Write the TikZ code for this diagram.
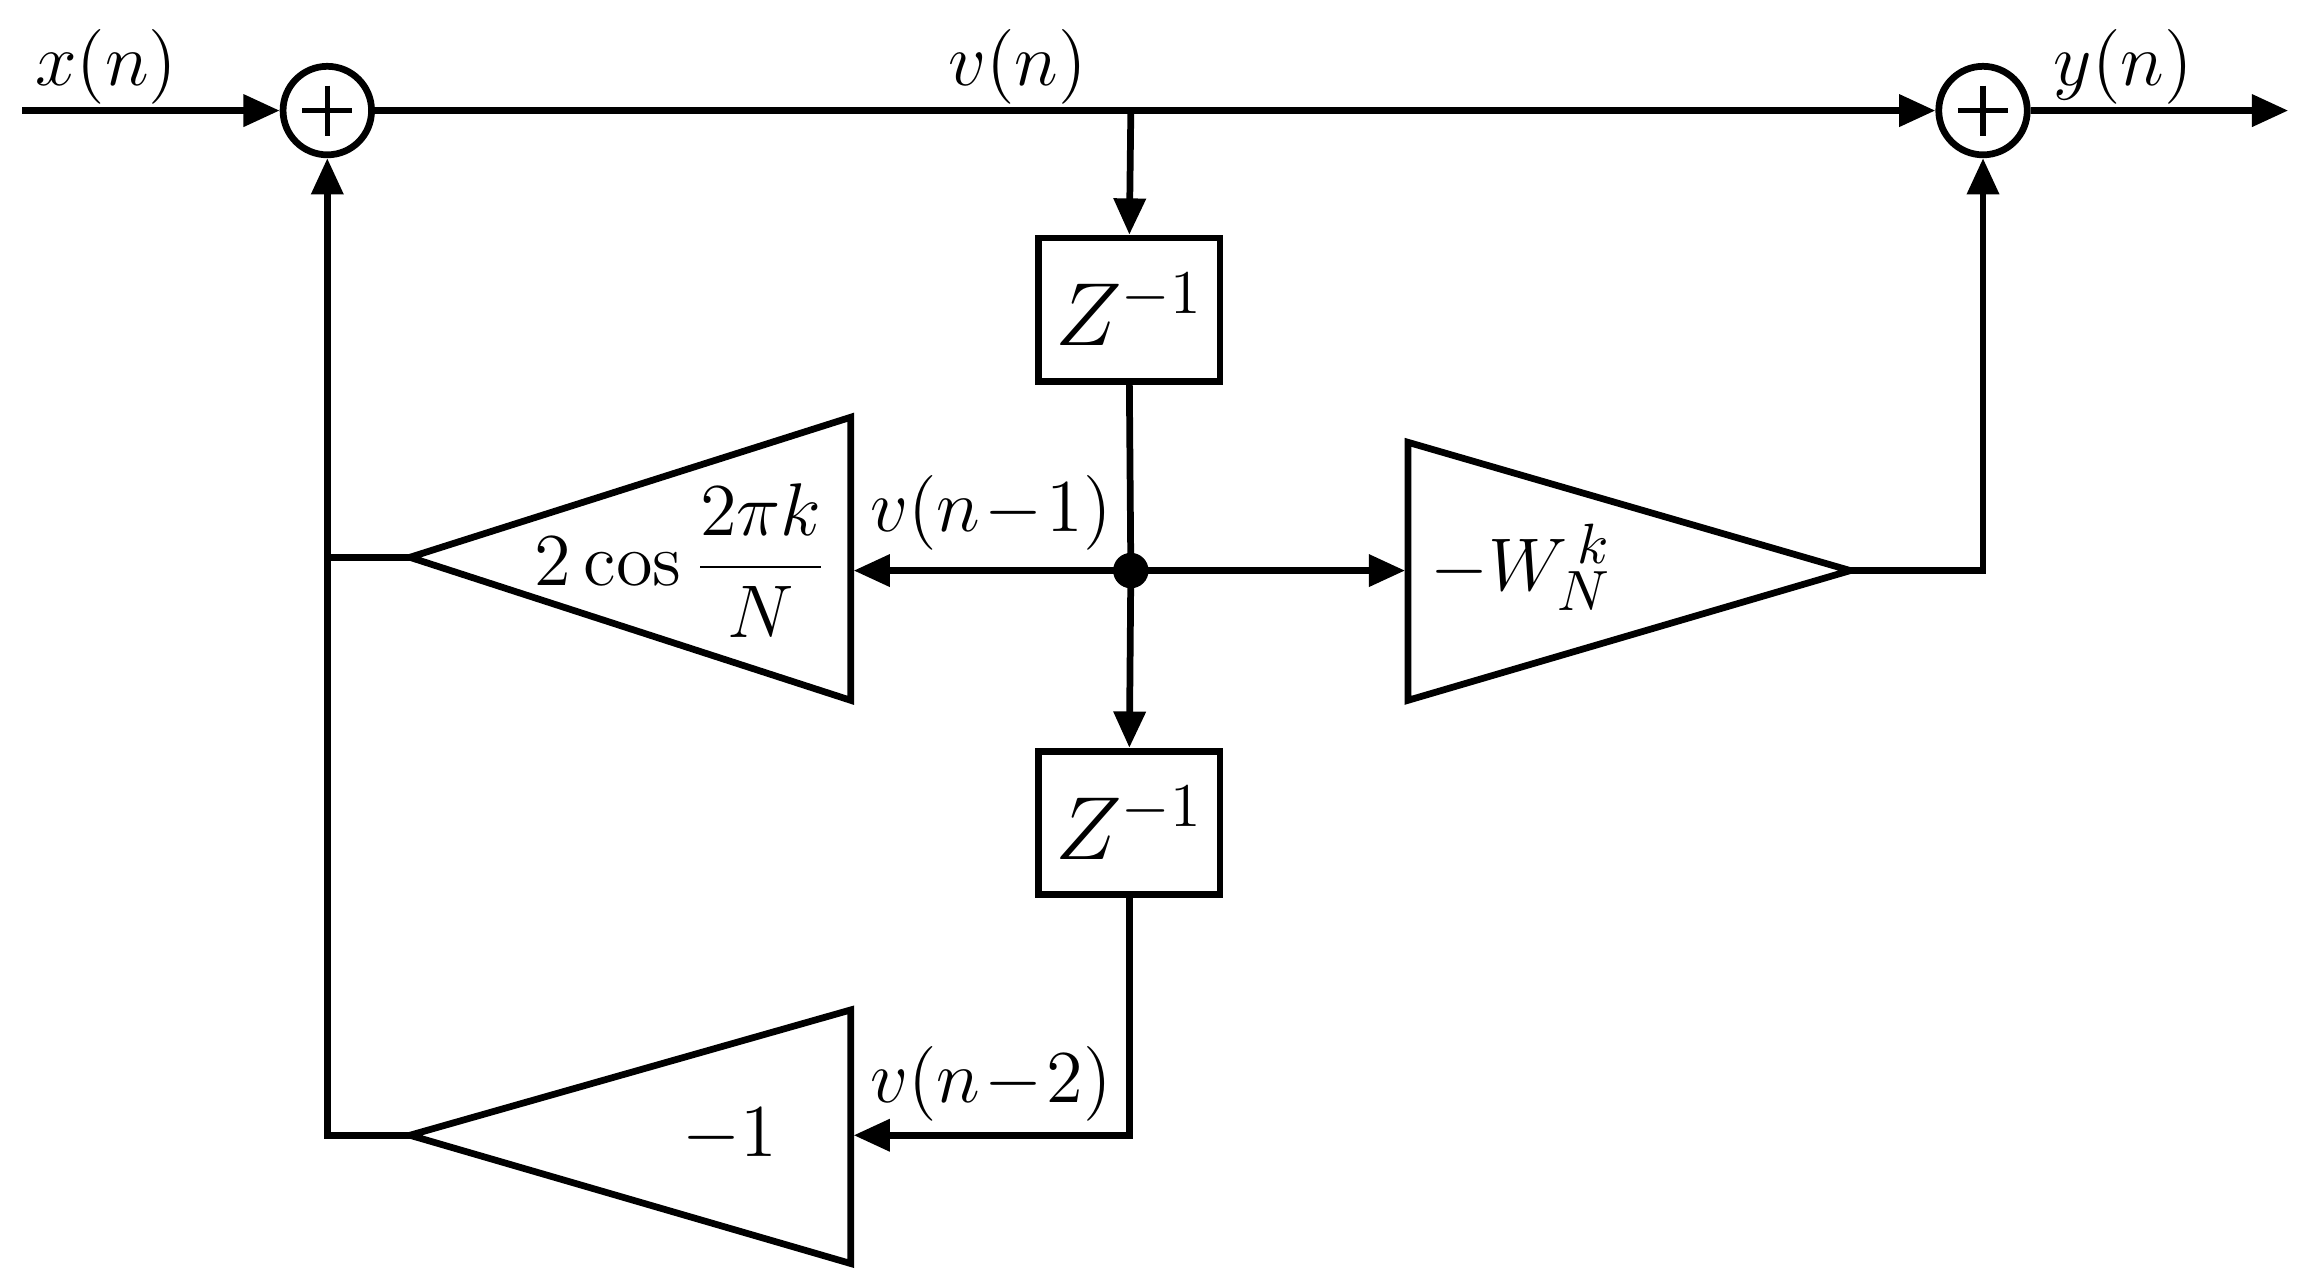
\documentclass[tikz,border=0pt]{standalone}
\usetikzlibrary{arrows.meta}
\begin{document}
\begin{tikzpicture}[x=0.01cm,y=-0.01cm,line width=1.3pt,
  >={Triangle[length=7pt,width=6pt]},
  sum/.style={circle,draw,minimum size=0.6cm,inner sep=0pt},
  box/.style={draw,minimum width=1.23cm,minimum height=0.97cm,inner sep=0pt},
  lbl/.style={font=\fontsize{15}{18}\selectfont,inner sep=0pt}]
\useasboundingbox (0,0) rectangle (1560,870);
\node[sum] (s1) at (222,75) {};
\node[sum] (s2) at (1345,75) {};
\draw[line width=1pt] (s1.center)+(-17,0) -- +(17,0) (s1.center)+(0,-17) -- +(0,17);
\draw[line width=1pt] (s2.center)+(-17,0) -- +(17,0) (s2.center)+(0,-17) -- +(0,17);
\coordinate (in) at (15,75);
\coordinate (out) at (1552,75);
\coordinate (br) at (767,75);
\node[box] (z1) at (766,210) {\fontsize{18}{20}\selectfont $Z^{-1}$};
\node[box] (z2) at (766,558) {\fontsize{18}{20}\selectfont $Z^{-1}$};
\node[circle,fill,inner sep=0pt,minimum size=0.24cm] (dot) at (767,387) {};
% triangles
\draw (577,283) -- (577,475) -- (278,378) -- cycle;
\draw (955,300) -- (955,475) -- (1255,387) -- cycle;
\draw (577,685) -- (577,857) -- (278,770) -- cycle;
\coordinate (t1tip) at (278,378); \coordinate (t1in) at (579,387);
\coordinate (t2in) at (953,387); \coordinate (t2tip) at (1255,387);
\coordinate (t3tip) at (278,770); \coordinate (t3in) at (579,770);
\coordinate (c1) at (222,378); \coordinate (c3) at (222,770);
\draw[->] (in) -- (s1.west);
\draw[->] (s1.east) -- (s2.west);
\draw[->] (s2.east) -- (out);
\draw[->] (br) -- (z1.north);
\draw (z1.south) -- (dot.center);
\draw[->] (dot.center) -- (z2.north);
\draw[->] (dot.center) -- (t1in);
\draw[->] (dot.center) -- (t2in);
\draw[->] (z2.south) |- (t3in);
\draw (t1tip) -- (c1);
\draw[->] (t3tip) -- (c3) -- (s1.south);
\draw[->] (t2tip) -| (s2.south);
% labels
\node[lbl] at (72,45) {$x(n)$};
\node[lbl] at (690,45) {$v(n)$};
\node[lbl] at (1440,45) {$y(n)$};
\node[lbl] at (672,348) {$v(n\!-\!1)$};
\node[lbl] at (672,735) {$v(n\!-\!2)$};
\node[lbl] at (495,770) {$-1$};
\node[lbl] at (462,380) {$2\cos{\displaystyle\frac{2\pi k}{N}}$};
\node[lbl] at (1032,385) {$-W_N^{\,k}$};
\end{tikzpicture}
\end{document}
